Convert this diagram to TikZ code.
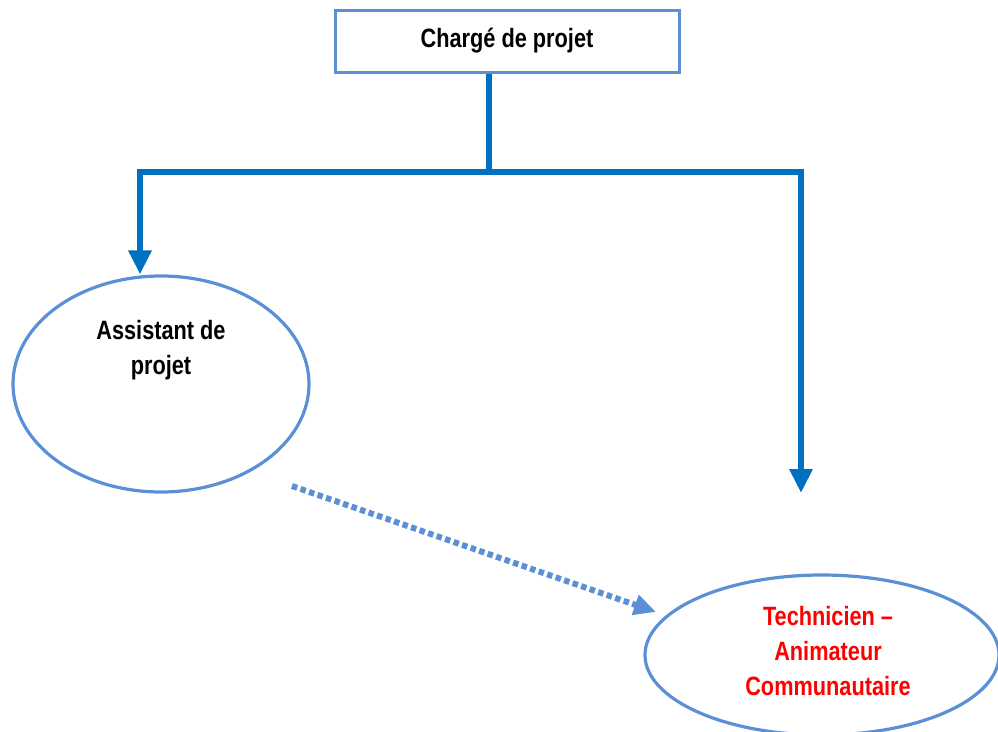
\documentclass[tikz,border=0pt]{standalone}
\usepackage{fontspec}
\setmainfont{Liberation Sans}[FakeStretch=0.82]
\usetikzlibrary{shapes.geometric,arrows.meta}
\definecolor{darkblue}{HTML}{0070C0}
\definecolor{lightblue}{HTML}{5B8FD6}
\definecolor{txtred}{HTML}{FF0000}
\tikzset{
  lbl/.style={font=\bfseries\fontsize{26.5}{35}\selectfont, align=center},
  boxstyle/.style={draw=lightblue, line width=3pt, rectangle, minimum width=344pt, minimum height=62pt, inner sep=0pt},
  ellstyle/.style={draw=lightblue, line width=3.2pt, ellipse, inner sep=0pt},
  conn/.style={draw=darkblue, line width=6pt},
  connarrow/.style={conn, -{Triangle[length=24pt,width=22pt]}},
  dotarrow/.style={draw=lightblue, line width=6pt, dash pattern=on 5.5pt off 3.5pt, -{Triangle[length=22pt,width=20pt]}}
}
\begin{document}
\begin{tikzpicture}[x=1pt,y=-1pt]
\useasboundingbox (0,0) rectangle (998,731);
% nodes
\node[boxstyle, lbl] (top) at (507,41) {Chargé de projet};
\node[ellstyle, minimum width=296pt, minimum height=216pt] (asst) at (161,384) {};
\node[lbl] (asstlbl) at (161,350) {Assistant de\\projet};
\node[ellstyle, minimum width=354pt, minimum height=160pt] (tech) at (822,655) {};
\node[lbl, text=txtred] (techlbl) at (828,651) {Technicien –\\Animateur\\Communautaire};
% coordinates
\coordinate (j) at (489,172);
\coordinate (jl) at (140,172);
\coordinate (jr) at (801,172);
\coordinate (rend) at (801,493);
\coordinate (dstart) at (292,486);
\coordinate (dend) at (656,612);
% connectors
\draw[conn] (top.south -| j) -- (j);
\draw[conn, line cap=rect] (jl) -- (jr);
\draw[connarrow] (jl) -- (jl |- asst.north);
\draw[connarrow] (jr) -- (rend);
\draw[dotarrow] (dstart) -- (dend);
\end{tikzpicture}
\end{document}
